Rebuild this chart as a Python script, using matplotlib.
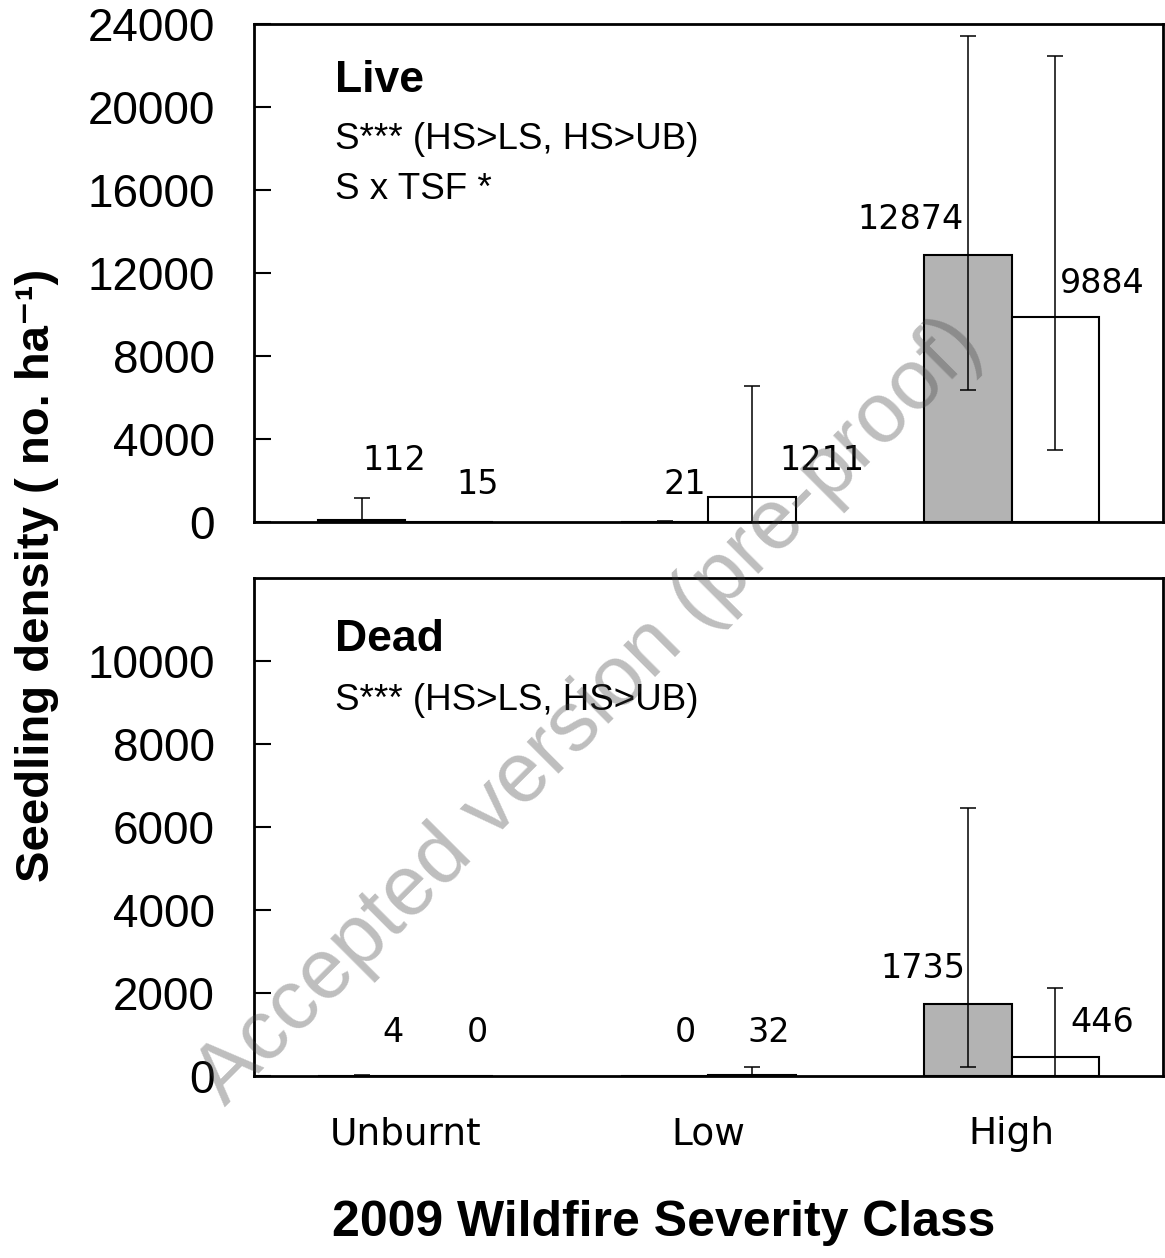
import numpy as np
import matplotlib
matplotlib.use("Agg")
from matplotlib import pyplot as plt

plt.rcParams["font.family"] = ["Liberation Sans", "DejaVu Sans"]

# --- data -------------------------------------------------------------------
classes = ["Unburnt", "Low", "High"]

live_a = [112, 21, 12874]          # grey bars
live_a_lo = [0, 0, 6340]
live_a_hi = [1160, 60, 23440]
live_b = [15, 1211, 9884]          # white bars
live_b_lo = [15, 0, 3480]
live_b_hi = [15, 6530, 22440]

dead_a = [4, 0, 1735]
dead_a_lo = [0, 0, 225]
dead_a_hi = [20, 0, 6460]
dead_b = [0, 32, 446]
dead_b_lo = [0, 0, 10]
dead_b_hi = [0, 220, 2130]

# value label placement (x offset from class centre, y in data units)
live_a_lx = [-0.036, -0.077, -0.334]
live_a_ly = [2940, 1783, 14578]
live_b_lx = [0.237, 0.375, 0.298]
live_b_ly = [1783, 2940, 11470]
dead_a_lx = [-0.04, -0.076, -0.293]
dead_a_ly = [1036, 1036, 2578]
dead_b_lx = [0.237, 0.20, 0.30]
dead_b_ly = [1036, 1036, 1289]

W = 0.288
GREY = "#b3b3b3"


def draw_panel(ax, a, a_lo, a_hi, b, b_lo, b_hi, alx, aly, blx, bly, ymax, step):
    x = np.arange(len(classes))
    a = np.array(a)
    b = np.array(b)
    ax.bar(x - W / 2, a, W, color=GREY, edgecolor="black", linewidth=1.5, zorder=2)
    ax.bar(x + W / 2, b, W, color="white", edgecolor="black", linewidth=1.5, zorder=2)
    ax.errorbar(x - W / 2, a, yerr=[a - np.array(a_lo), np.array(a_hi) - a],
                fmt="none", ecolor="black", elinewidth=1.1, capsize=5.8,
                capthick=1.1, zorder=3)
    ax.errorbar(x + W / 2, b, yerr=[b - np.array(b_lo), np.array(b_hi) - b],
                fmt="none", ecolor="black", elinewidth=1.1, capsize=5.8,
                capthick=1.1, zorder=3)
    for i in range(len(classes)):
        ax.text(x[i] + alx[i], aly[i], f"{a[i]:g}", ha="center", va="center",
                fontsize=24, family="DejaVu Sans")
        ax.text(x[i] + blx[i], bly[i], f"{b[i]:g}", ha="center", va="center",
                fontsize=24, family="DejaVu Sans")
    ax.set_xlim(-0.5, 2.5)
    ax.set_ylim(0, ymax)
    ax.set_yticks(np.arange(0, ymax + 1, step))
    ax.tick_params(axis="y", direction="in", length=12, width=1.5,
                   labelsize=33, pad=28)
    ax.tick_params(axis="x", length=0)
    for s in ax.spines.values():
        s.set_linewidth(2)


fig = plt.figure(figsize=(11.65, 12.58), dpi=100)
ax1 = fig.add_axes([0.218, 0.5851, 0.7803, 0.3959])
ax2 = fig.add_axes([0.218, 0.1447, 0.7803, 0.3959])

draw_panel(ax1, live_a, live_a_lo, live_a_hi, live_b, live_b_lo, live_b_hi,
           live_a_lx, live_a_ly, live_b_lx, live_b_ly, 24000, 4000)
draw_panel(ax2, dead_a, dead_a_lo, dead_a_hi, dead_b, dead_b_lo, dead_b_hi,
           dead_a_lx, dead_a_ly, dead_b_lx, dead_b_ly, 12000, 2000)
ax2.set_yticks(np.arange(0, 10001, 2000))

ax1.set_xticks([])
ax2.set_xticks(np.arange(len(classes)))
ax2.set_xticklabels(classes, fontsize=27, family="DejaVu Sans")
ax2.tick_params(axis="x", pad=29)

ax1.text(0.089, 0.863, "Live", transform=ax1.transAxes, fontsize=32,
         fontweight="bold", va="baseline")
ax1.text(0.089, 0.749, "S*** (HS>LS, HS>UB)", transform=ax1.transAxes,
         fontsize=26.5, va="baseline")
ax1.text(0.089, 0.649, "S x TSF *", transform=ax1.transAxes,
         fontsize=26.5, va="baseline")
ax2.text(0.089, 0.853, "Dead", transform=ax2.transAxes, fontsize=32,
         fontweight="bold", va="baseline")
ax2.text(0.089, 0.735, "S*** (HS>LS, HS>UB)", transform=ax2.transAxes,
         fontsize=26.5, va="baseline")

fig.text(0.032, 0.543, "Seedling density ( no. ha\u207b\u00b9)", rotation=90,
         ha="center", va="center", fontsize=34, fontweight="bold")
fig.text(0.57, 0.028, "2009 Wildfire Severity Class", ha="center",
         va="center", fontsize=36, fontweight="bold")

# watermark
fig.text(0.506, 0.434, "Accepted version (pre-proof)", rotation=45,
         ha="center", va="center", fontsize=61, color="#404040", alpha=0.34,
         zorder=10)

fig.savefig("out.png", dpi=100)
